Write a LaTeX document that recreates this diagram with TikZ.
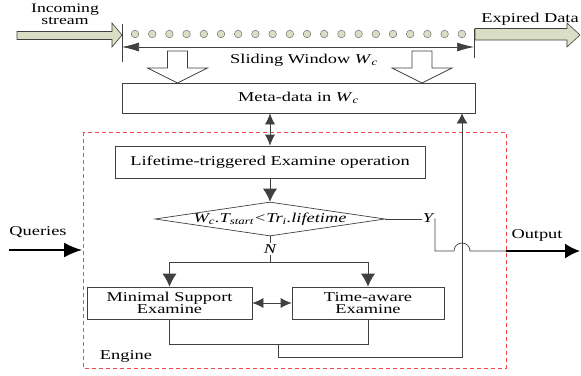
\documentclass[tikz,border=0pt]{standalone}
\usepackage{fontspec}
\setmainfont{Liberation Serif}[FakeStretch=1.36]
\usetikzlibrary{arrows.meta,shapes.geometric}
\definecolor{mysage}{rgb}{0.85,0.87,0.77}
\definecolor{mygray}{rgb}{0.25,0.25,0.25}
\definecolor{myred}{rgb}{0.97,0.28,0.28}
\newcommand{\winsub}{\textit{W}\textsubscript{\textit{c}}}

\begin{document}
\begin{tikzpicture}[x=1pt, y=-1pt, font=\fontsize{13.5}{11}\selectfont,
	box/.style={draw=mygray, line width=0.7pt, minimum height=32pt, align=center, inner sep=0pt},
	line/.style={draw=mygray, line width=0.7pt},
	flow/.style={line, -{Latex[length=13pt,width=14pt]}},
	biflow/.style={line, {Latex[length=11pt,width=10pt]}-{Latex[length=11pt,width=10pt]}},
	fat/.style={draw=mygray, line width=0.6pt, fill=mysage},
	label/.style={inner sep=1pt}]
	\useasboundingbox (0,0) rectangle (581,375);

	% Stream, window and expired data
	\node[label, align=center, font=\fontsize{13}{12.5}\selectfont] (incoming) at (65,14.5) {Incoming\\stream};
	\node[label] (expired) at (530,19) {Expired Data};
	\draw[fat] (17,31.5) -- (112,31.5) -- (112,23) -- (122,35) -- (112,47) -- (112,39.5) -- (17,39.5) -- cycle;
	\draw[fat] (475,28.5) -- (567,28.5) -- (567,23) -- (580,35) -- (567,47) -- (567,40) -- (475,40) -- cycle;
	\foreach \i in {0,...,19}
		\draw[fill=mysage, draw=black!55, line width=0.5pt] (135+\i*17.2,34) circle (3.8);

	\coordinate (winL) at (122,47);
	\coordinate (winR) at (474,47);
	\draw[line] (122,24) -- (122,62);
	\draw[line] (474,29) -- (474,58);
	\draw[line, {Latex[length=17pt,width=9pt]}-{Latex[length=17pt,width=9pt]}] (winL) -- (winR);
	\node[label] (window) at (304,60) {Sliding Window \winsub};

	% Hollow arrows into the meta-data box
	\foreach \cx in {177.5,422}
		\draw[line, fill=white] (\cx-10,51) -- (\cx+10,51) -- (\cx+10,68) -- (\cx+30,68) -- (\cx,83) -- (\cx-30,68) -- (\cx-10,68) -- cycle;

	\node[box, minimum width=353pt, minimum height=30pt] (meta) at (298.5,98) {Meta-data in \winsub};

	% Engine
	\draw[myred, line width=0.7pt, dash pattern=on 4pt off 3pt] (83,132) rectangle (506,368);
	\node[label] (engine) at (126,356) {Engine};

	\node[box, minimum width=310pt] (life) at (270,162) {Lifetime-triggered Examine operation};
	\node[draw=mygray, line width=0.7pt, diamond, minimum width=230pt, minimum height=34pt, inner sep=0pt] (cond) at (270,219)
		{\makebox[0pt]{\itshape W\textsubscript{c}.T\textsubscript{start}<Tr\textsubscript{i}.lifetime}};
	\node[box, minimum width=165pt, font=\fontsize{13.5}{12}\selectfont] (minimal) at (169.5,303) {Minimal Support\\Examine};
	\node[box, minimum width=152pt, font=\fontsize{13.5}{12}\selectfont] (time) at (368,303) {Time-aware\\Examine};

	\draw[biflow] (life.north) -- (life.north |- meta.south);
	\draw[flow] (life.south) -- (cond.north);

	% No branch
	\node[label] (nlab) at (270,249) {\itshape N};
	\coordinate (split) at (270,262);
	\draw[line] (cond.south) -- (nlab.north);
	\draw[line] (nlab.south) -- (split);
	\draw[flow] (split) -| (minimal.north);
	\draw[flow] (split) -| (time.north);
	\draw[biflow] (minimal.east) -- (time.west);

	% Back to the meta-data
	\coordinate (merge) at (278,344);
	\coordinate (back) at (462,357);
	\draw[line] (minimal.south) -- ++(0,25) -| (time.south);
	\draw[line, -{Latex[length=10pt,width=11pt]}] (merge) |- (back) -- (back |- meta.south);

	% Yes branch
	\node[label] (ylab) at (428,218) {\itshape Y};
	\coordinate (turn) at (435,251);
	\coordinate (exit) at (506,251);
	\coordinate (outend) at (580,251);
	\draw[line] (cond.east) -- (ylab.west |- cond.east);
	\draw[line] (ylab.east |- cond.east) -| (turn) -- ([xshift=-8pt]back |- exit) arc (180:360:8) -- (exit);
	\draw[line width=1.6pt, -{Latex[length=15pt,width=15pt]}] (exit) -- (outend);
	\node[label] (output) at (537,235) {Output};

	% Queries
	\coordinate (qstart) at (9,250);
	\coordinate (qend) at (82,250);
	\draw[line width=1.8pt, -{Latex[length=18pt,width=15pt]}] (qstart) -- (qend);
	\node[label] (queries) at (38,232) {Queries};
\end{tikzpicture}
\end{document}
